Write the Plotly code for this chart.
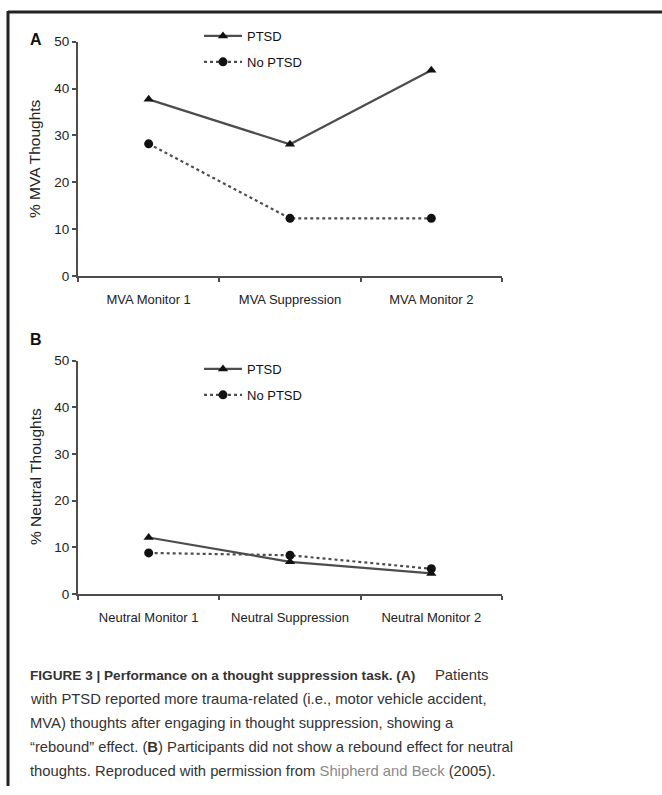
import plotly.graph_objects as go

# ---- data ----
categories_a = ["MVA Monitor 1", "MVA Suppression", "MVA Monitor 2"]
categories_b = ["Neutral Monitor 1", "Neutral Suppression", "Neutral Monitor 2"]
ptsd_a = [37.7, 28.1, 43.9]
no_ptsd_a = [28.2, 12.3, 12.3]
ptsd_b = [12.1, 6.9, 4.4]
no_ptsd_b = [8.8, 8.3, 5.4]
y_ticks = [0, 10, 20, 30, 40, 50]
series_names = ["PTSD", "No PTSD"]

W, H = 662, 795
def px(x):
    return x / W
def py(y):
    return 1 - y / H

LINE_COL = "#4d4d4d"
MARK_COL = "#111111"
FONT = "Liberation Sans, Arial, sans-serif"

fig = go.Figure()

def add_pair(xcats, p, n, xa, ya, legend):
    fig.add_trace(go.Scatter(
        x=xcats, y=p, name=series_names[0], mode="lines+markers",
        line=dict(color=LINE_COL, width=2.2, dash="solid"),
        marker=dict(symbol="triangle-up", size=9, color=MARK_COL),
        xaxis=xa, yaxis=ya, legend=legend, legendgroup=legend + "p"))
    fig.add_trace(go.Scatter(
        x=xcats, y=n, name=series_names[1], mode="lines+markers",
        line=dict(color=LINE_COL, width=2.2, dash="dot"),
        marker=dict(symbol="circle", size=9, color=MARK_COL),
        xaxis=xa, yaxis=ya, legend=legend, legendgroup=legend + "n"))

add_pair(categories_a, ptsd_a, no_ptsd_a, "x", "y", "legend")
add_pair(categories_b, ptsd_b, no_ptsd_b, "x2", "y2", "legend2")

xdom = [px(78), px(502)]
ydom_a = [py(276), py(41.7)]
ydom_b = [py(594), py(360.7)]

xaxis_common = dict(
    type="category", range=[-0.5, 2.5], tickson="boundaries",
    ticks="outside", ticklen=4, tickcolor=LINE_COL, tickwidth=1.5,
    showline=True, linecolor=LINE_COL, linewidth=2, showgrid=False,
    zeroline=False, fixedrange=True, ticklabelstandoff=10, automargin=False,
    tickfont=dict(family=FONT, size=13, color="#222"),
)
yaxis_common = dict(
    range=[0, 50], tickvals=y_ticks, ticks="outside", ticklen=4,
    tickcolor=LINE_COL, tickwidth=1.5, showline=True, linecolor=LINE_COL,
    linewidth=2, showgrid=False, zeroline=False, fixedrange=True,
    automargin=False,
    tickfont=dict(family=FONT, size=13.5, color="#222"),
)

legend_common = dict(
    font=dict(family=FONT, size=13, color="#111"),
    bgcolor="rgba(0,0,0,0)", tracegroupgap=6, xanchor="left",
    yanchor="top", itemwidth=38,
)

fig.update_layout(
    width=W, height=H, margin=dict(l=0, r=0, t=0, b=0, pad=0, autoexpand=False),
    paper_bgcolor="white", plot_bgcolor="white",
    xaxis=dict(domain=xdom, anchor="y", **xaxis_common),
    yaxis=dict(domain=ydom_a, anchor="x", **yaxis_common),
    xaxis2=dict(domain=xdom, anchor="y2", **xaxis_common),
    yaxis2=dict(domain=ydom_b, anchor="x2", **yaxis_common),
    legend=dict(x=px(199), y=py(21), **legend_common),
    legend2=dict(x=px(199), y=py(354), **legend_common),
    showlegend=True,
)

# frame lines
fig.add_shape(type="line", xref="paper", yref="paper", x0=px(8), x1=1,
              y0=py(12), y1=py(12), line=dict(color="#222", width=3))
fig.add_shape(type="line", xref="paper", yref="paper", x0=px(8), x1=px(8),
              y0=py(11), y1=py(786), line=dict(color="#222", width=3))

# panel letters
for letter, yy in (("A", 40), ("B", 339)):
    fig.add_annotation(text="<b>%s</b>" % letter, xref="paper", yref="paper",
                       x=px(35.5), y=py(yy), xanchor="center", yanchor="middle",
                       showarrow=False, font=dict(family=FONT, size=16, color="#111"))

# y axis titles
for t, yy in (("% MVA Thoughts", 159), ("% Neutral Thoughts", 477)):
    fig.add_annotation(text=t, xref="paper", yref="paper", x=px(35), y=py(yy),
                       xanchor="center", yanchor="middle", textangle=-90,
                       showarrow=False, font=dict(family=FONT, size=15.5, color="#222"))

# caption
CAP_FONT = "Liberation Sans, Arial, sans-serif"
BOLD_STYLE = "font-size:13.6px;font-weight:bold"
caption_lines = [
    "<span style=\"%s\">FIGURE 3 | Performance on a thought suppression task. (A)</span>" % BOLD_STYLE,
    "with PTSD reported more trauma-related (i.e., motor vehicle accident,",
    "MVA) thoughts after engaging in thought suppression, showing a",
    "\u201crebound\u201d effect. (<b>B</b>) Participants did not show a rebound effect for neutral",
    "thoughts. Reproduced with permission from <span style='color:#8a8a8a'>Shipherd and Beck</span> (2005).",
]
for i, line in enumerate(caption_lines):
    fig.add_annotation(text=line, xref="paper", yref="paper", x=px(28),
                       y=py(675 + 24 * i), xanchor="left", yanchor="middle",
                       showarrow=False, align="left",
                       font=dict(family=CAP_FONT, size=14.8, color="#333"))
fig.add_annotation(text="Patients", xref="paper", yref="paper", x=px(433),
                   y=py(675), xanchor="left", yanchor="middle", showarrow=False,
                   font=dict(family=CAP_FONT, size=14.8, color="#333"))

post = ("document.body.style.margin='0';"
        "var d=document.getElementById('{plot_id}');"
        "d.style.position='absolute';d.style.left='0px';d.style.top='0px';")
fig.write_html("out.html", post_script=post, config={"displayModeBar": False})
